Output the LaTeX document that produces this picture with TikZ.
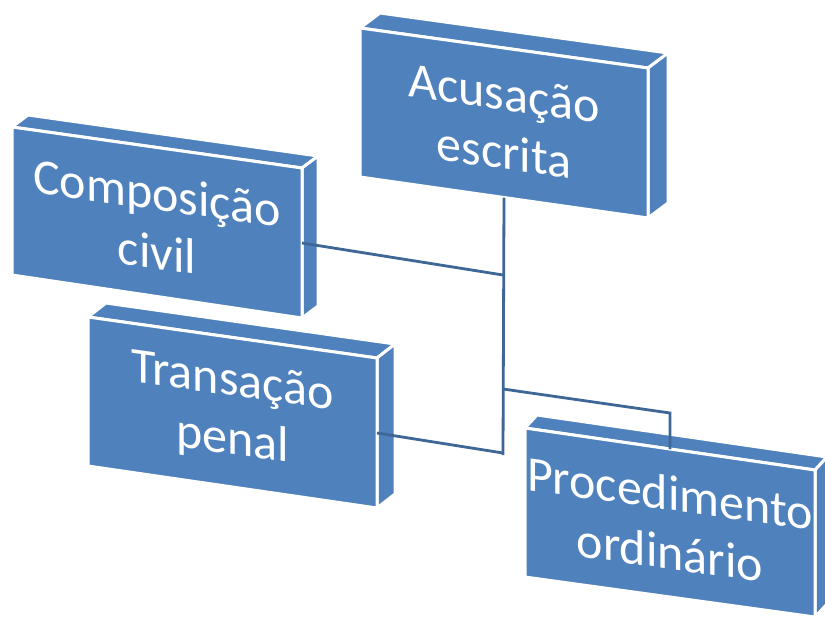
\documentclass[tikz,border=0pt]{standalone}
\usepackage{fontspec}
\setmainfont{Carlito}
\usetikzlibrary{calc}
\definecolor{boxblue}{RGB}{79,129,189}
\definecolor{lineblue}{RGB}{62,102,150}
\tikzset{
  boxface/.style={fill=boxblue, draw=white, line width=3pt, line join=round},
  boxtext/.style={text=white, align=center, font=\fontsize{50}{59}\selectfont, yslant=-0.14, inner sep=0pt},
  conn/.style={draw=lineblue, line width=2.8pt}
}
\newcommand\pbox[7]{%
  \coordinate (#1-tl) at (#2); \coordinate (#1-tr) at (#3);
  \coordinate (#1-br) at (#4); \coordinate (#1-bl) at (#5);
  \coordinate (#1-d) at (#6);
  \filldraw[boxface] (#1-tl) -- ($(#1-tl)+(#1-d)$) -- ($(#1-tr)+(#1-d)$) -- (#1-tr) -- cycle;
  \filldraw[boxface] (#1-tr) -- ($(#1-tr)+(#1-d)$) -- ($(#1-br)+(#1-d)$) -- (#1-br) -- cycle;
  \filldraw[boxface] (#1-tl) -- (#1-tr) -- (#1-br) -- (#1-bl) -- cycle;
  \node[boxtext] (#1) at ($(#1-tl)!0.5!(#1-br)$) {#7};
}
\begin{document}
\begin{tikzpicture}[x=1pt,y=-1pt]
\useasboundingbox (0,0) rectangle (825,619);
\pbox{ac}{360,28}{648,68}{648,218}{360,177}{20,-15}{Acusação\\escrita}
\pbox{cc}{12,127}{302,168}{302,318}{12,275}{16,-12}{Composição\\civil}
\pbox{tp}{88,317}{377,358}{377,508}{88,466}{18,-14}{Transação\\penal}
\pbox{po}{525,428}{815,470}{815,617}{525,577}{12,-13}{Procedimento\\ordinário}
% connector points
\coordinate (acB) at ($(ac-bl)!0.5!(ac-br)$);
\coordinate (ccR) at ($(cc-tr)!0.5!(cc-br)$);
\coordinate (tpR) at ($(tp-tr)!0.5!(tp-br)$);
\coordinate (poT) at ($(po-tl)!0.5!(po-tr)$);
\coordinate (j1) at (503,275);
\coordinate (j2) at (503,389);
\coordinate (j3) at (503,455);
\coordinate (j4) at (503,453);
\coordinate (jp) at (poT |- 0,413);
\draw[conn] (acB) -- (j3);
\draw[conn] (ccR) -- (j1);
\draw[conn] (tpR) -- (j4);
\draw[conn] (j2) -- (jp) -- (poT);
\end{tikzpicture}
\end{document}
